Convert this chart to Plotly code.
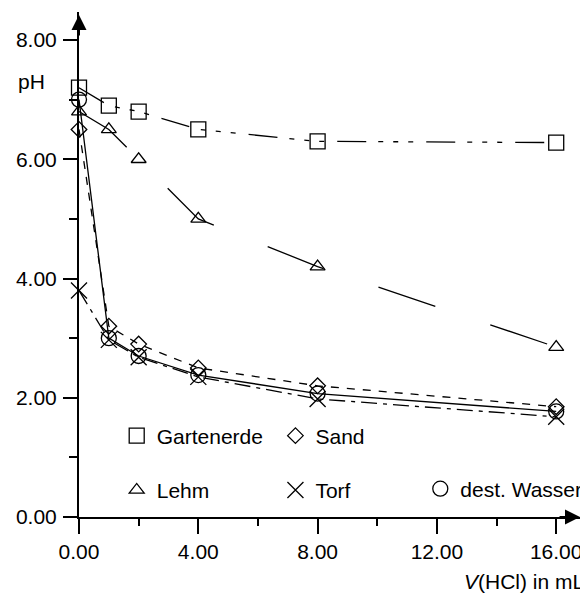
import plotly.graph_objects as go

# ---- data ----
v_hcl = [0, 1, 2, 4, 8, 16]
gartenerde = [7.2, 6.9, 6.8, 6.5, 6.3, 6.28]
sand = [6.5, 3.2, 2.9, 2.5, 2.2, 1.85]
lehm = [6.8, 6.5, 6.0, 5.0, 4.2, 2.85]
torf = [3.8, 2.97, 2.68, 2.35, 1.98, 1.68]
wasser = [7.0, 3.0, 2.7, 2.38, 2.07, 1.77]

names = ["Gartenerde", "Sand", "Lehm", "Torf", "dest. Wasser"]
x_ticks = [0, 4, 8, 12, 16]
y_ticks = [0, 2, 4, 6, 8]

FONT = "Liberation Sans, Arial, Helvetica, sans-serif"
FS = 21
BLACK = "#000000"

series = [
    (names[0], gartenerde, "square-open", 15, "29px,12px,5px,10px,5px,10px,5px,13px"),
    (names[1], sand, "diamond-open", 12, "8px,8px"),
    (names[2], lehm, "triangle-up-open", 13, "60px,58px"),
    (names[3], torf, "x-thin", 16, "16px,6px,4px,6px"),
    (names[4], wasser, "circle-open", 15, "solid"),
]

fig = go.Figure()
for name, vals, sym, size, dash in series:
    fig.add_trace(go.Scatter(
        x=v_hcl, y=vals, mode="lines+markers", name=name, showlegend=False,
        line=dict(color=BLACK, width=1.3, dash=dash),
        marker=dict(symbol=sym, size=size, color=BLACK,
                    line=dict(color=BLACK, width=1.3)),
        cliponaxis=False,
    ))

# legend-only entries (markers only)
legend_of = {names[0]: "legend", names[2]: "legend",
             names[1]: "legend2", names[3]: "legend2",
             names[4]: "legend3"}
for name, vals, sym, size, dash in series:
    fig.add_trace(go.Scatter(
        x=[None], y=[None], mode="markers", name=name, showlegend=True,
        legend=legend_of[name], legendgroup=name,
        marker=dict(symbol=sym, size=size, color=BLACK,
                    line=dict(color=BLACK, width=1.3)),
    ))

# page has an 8px body margin: figure origin sits at page (8, 8)
OFF = 8
W, H = 588 - OFF, 594 - OFF
ML = 79 - OFF          # y axis at page x=79
MT = 12 - OFF          # top of y axis at page y=12
MB = H - (517 - OFF)   # x axis at page y=517
MR = W - (587 - OFF)   # right end of x axis at page x=587
pw = W - ML - MR
ph = H - MT - MB
px_per_x = 481 / 16
px_per_y = 477 / 8

def px_x(p):
    return (p - OFF - ML) / pw

def px_y(p):
    return (H - MB - (p - OFF)) / ph

leg_common = dict(font=dict(family=FONT, size=FS, color=BLACK),
                  bgcolor="rgba(0,0,0,0)", borderwidth=0,
                  orientation="v", tracegroupgap=24,
                  xanchor="left", yanchor="middle")

fig.update_layout(
    width=W, height=H,
    margin=dict(l=ML, r=MR, t=MT, b=MB, pad=0),
    paper_bgcolor="white", plot_bgcolor="white",
    font=dict(family=FONT, size=FS, color=BLACK),
    legend=dict(x=px_x(117), y=px_y(463), **leg_common),
    legend2=dict(x=px_x(277), y=px_y(463), **leg_common),
    legend3=dict(x=px_x(423), y=px_y(489), **leg_common),
    xaxis=dict(range=[0, pw / px_per_x], showgrid=False, zeroline=False,
               showline=True, linecolor=BLACK, linewidth=2,
               tickmode="array", tickvals=x_ticks,
               ticktext=[f"{v:.2f}" for v in x_ticks],
               ticks="outside", ticklen=15, tickwidth=2, tickcolor=BLACK,
               minor=dict(dtick=2, ticks="outside", ticklen=7, tickwidth=2,
                          tickcolor=BLACK, showgrid=False),
               tickfont=dict(family=FONT, size=FS, color=BLACK)),
    yaxis=dict(range=[0, ph / px_per_y], showgrid=False, zeroline=False,
               showline=True, linecolor=BLACK, linewidth=2,
               tickmode="array", tickvals=y_ticks,
               ticktext=[f"{v:.2f}" for v in y_ticks],
               ticks="outside", ticklen=14, tickwidth=2, tickcolor=BLACK,
               ticklabelstandoff=2,
               minor=dict(dtick=1, ticks="outside", ticklen=8, tickwidth=2,
                          tickcolor=BLACK, showgrid=False),
               tickfont=dict(family=FONT, size=FS, color=BLACK)),
    showlegend=True,
)

# axis arrows (tip overshoots the end point by ~3px, so aim slightly short)
fig.add_annotation(x=0, y=px_y(15), xref="x", yref="paper", ax=0, ay=22,
                   axref="pixel", ayref="pixel", text="", showarrow=True,
                   arrowhead=2, arrowsize=1.5, arrowwidth=2, arrowcolor=BLACK)
fig.add_annotation(x=px_x(584), y=0, xref="paper", yref="y", ax=-22, ay=0,
                   axref="pixel", ayref="pixel", text="", showarrow=True,
                   arrowhead=2, arrowsize=1.5, arrowwidth=2, arrowcolor=BLACK)

# axis titles
fig.add_annotation(x=px_x(15), y=px_y(81), xref="paper", yref="paper",
                   text="pH", showarrow=False, xanchor="left", yanchor="middle",
                   font=dict(family=FONT, size=FS, color=BLACK))
fig.add_annotation(x=px_x(590), y=px_y(581), xref="paper", yref="paper",
                   text="<i>V</i>(HCl) in mL", showarrow=False,
                   xanchor="right", yanchor="middle",
                   font=dict(family=FONT, size=FS, color=BLACK))

fig.write_html("out.html")
